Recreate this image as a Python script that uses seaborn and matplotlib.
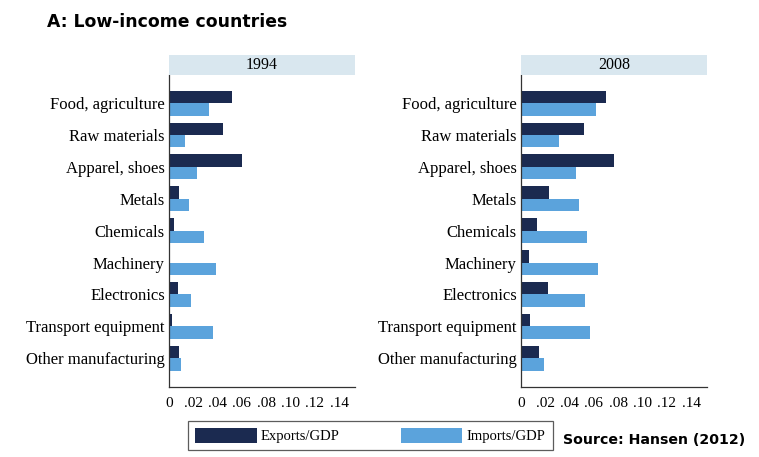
import matplotlib
matplotlib.use("Agg")
import matplotlib.pyplot as plt
import seaborn as sns
import pandas as pd
from matplotlib.patches import Patch

sns.set_style("white")
plt.rcParams['font.family'] = ['Liberation Serif', 'DejaVu Serif']
plt.rcParams['text.color'] = 'black'
plt.rcParams['xtick.color'] = 'black'
plt.rcParams['ytick.color'] = 'black'

categories = ["Food, agriculture", "Raw materials", "Apparel, shoes", "Metals",
              "Chemicals", "Machinery", "Electronics", "Transport equipment",
              "Other manufacturing"]
exports_1994 = [0.0515, 0.0446, 0.0598, 0.0083, 0.0041, 0.0008, 0.0077, 0.0022, 0.0085]
imports_1994 = [0.0325, 0.0135, 0.0231, 0.0165, 0.0289, 0.0390, 0.0185, 0.0366, 0.0096]
exports_2008 = [0.0696, 0.0517, 0.0765, 0.0227, 0.0130, 0.0069, 0.0221, 0.0077, 0.0144]
imports_2008 = [0.0619, 0.0309, 0.0453, 0.0481, 0.0547, 0.0630, 0.0528, 0.0569, 0.0190]
years = ["1994", "2008"]
series = ["Exports/GDP", "Imports/GDP"]
xticks = [0, 0.02, 0.04, 0.06, 0.08, 0.10, 0.12, 0.14]
xticklabels = ["0", ".02", ".04", ".06", ".08", ".10", ".12", ".14"]

c_exp = "#1b2a50"
c_imp = "#5ba3dc"
strip_color = "#d9e7ef"

def make_df(exp, imp):
    rows = []
    for c, e, i in zip(categories, exp, imp):
        rows.append({"Category": c, "Series": series[0], "Value": e})
        rows.append({"Category": c, "Series": series[1], "Value": i})
    return pd.DataFrame(rows)

data = {"1994": make_df(exports_1994, imports_1994),
        "2008": make_df(exports_2008, imports_2008)}

W, H = 759, 457
fig = plt.figure(figsize=(W / 100, H / 100), dpi=100)

panel_x = [169, 521]
ax_w = 186
ax_top, ax_bot = 75, 387
strip_top = 55

for year, px in zip(years, panel_x):
    ax = fig.add_axes([px / W, 1 - ax_bot / H, ax_w / W, (ax_bot - ax_top) / H])
    sns.barplot(data=data[year], y="Category", x="Value", hue="Series",
                order=categories, hue_order=series,
                palette=[c_exp, c_imp], orient="h", width=0.78,
                ax=ax, legend=False, saturation=1)
    for p in ax.patches:
        p.set_edgecolor("none")
    ax.set_xlim(0, 0.153)
    ax.set_ylim(8.9, -0.88)
    ax.set_xticks(xticks)
    ax.set_xticklabels(xticklabels, fontsize=11)
    ax.tick_params(axis="x", length=4, width=0.8, color="#333333", pad=3)
    ax.tick_params(axis="y", length=0, labelsize=12, pad=3)
    ax.set_xlabel("")
    ax.set_ylabel("")
    for s in ["top", "right"]:
        ax.spines[s].set_visible(False)
    for s in ["left", "bottom"]:
        ax.spines[s].set_color("#333333")
        ax.spines[s].set_linewidth(0.9)
    # strip
    sax = fig.add_axes([px / W, 1 - ax_top / H, ax_w / W, (ax_top - strip_top) / H])
    sax.set_facecolor(strip_color)
    sax.set_xticks([])
    sax.set_yticks([])
    for s in sax.spines.values():
        s.set_visible(False)
    sax.text(0.5, 0.5, year, ha="center", va="center", fontsize=11.5,
             transform=sax.transAxes)

fig.text(47 / W, 1 - 22 / H, "A: Low-income countries", fontsize=12.4,
         fontweight="bold", family=["DejaVu Sans"], va="center", ha="left")
fig.text(745 / W, 1 - 440 / H, "Source: Hansen (2012)", fontsize=10.2,
         fontweight="bold", family=["DejaVu Sans"], va="center", ha="right")

handles = [Patch(facecolor=c_exp, edgecolor="none", label=series[0]),
           Patch(facecolor=c_imp, edgecolor="none", label=series[1])]
leg = fig.legend(handles=handles, loc="center",
                 bbox_to_anchor=(188 / W, 1 - 451 / H, (553 - 188) / W, 31 / H),
                 mode="expand", ncol=2, frameon=True, fancybox=False,
                 edgecolor="#333333", fontsize=10.5, handlelength=4.2,
                 handleheight=1.2, borderaxespad=0, borderpad=0.5,
                 handletextpad=0.3)
leg.get_frame().set_linewidth(0.9)

fig.savefig("out.png", dpi=100)
